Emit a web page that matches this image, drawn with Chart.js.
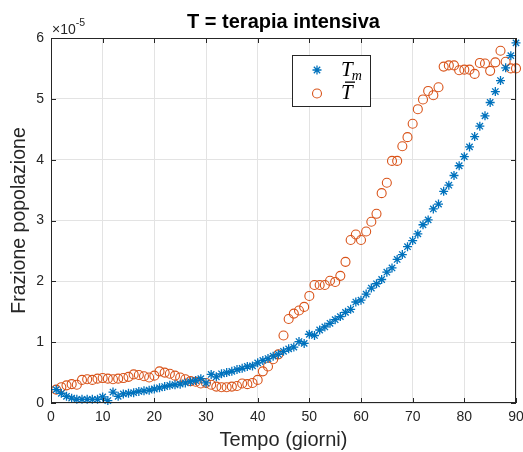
<!DOCTYPE html>
<html>
<head>
<meta charset="utf-8">
<script src="https://cdn.jsdelivr.net/npm/chart.js@4.4.1/dist/chart.umd.min.js"></script>
<style>
  html, body { margin: 0; padding: 0; background: #ffffff; }
  #wrap { width: 523px; height: 452px; }
</style>
</head>
<body>
<div id="wrap"><canvas id="c" width="523" height="452"></canvas></div>
<script>
// Days since start
const days = [
  1, 2, 3, 4, 5, 6, 7, 8, 9, 10,
  11, 12, 13, 14, 15, 16, 17, 18, 19, 20,
  21, 22, 23, 24, 25, 26, 27, 28, 29, 30,
  31, 32, 33, 34, 35, 36, 37, 38, 39, 40,
  41, 42, 43, 44, 45, 46, 47, 48, 49, 50,
  51, 52, 53, 54, 55, 56, 57, 58, 59, 60,
  61, 62, 63, 64, 65, 66, 67, 68, 69, 70,
  71, 72, 73, 74, 75, 76, 77, 78, 79, 80,
  81, 82, 83, 84, 85, 86, 87, 88, 89, 90
];

// T_m (model), fraction of population in units of 1e-5
const tModel = [
  0.22, 0.16, 0.11, 0.08, 0.06, 0.06, 0.06, 0.06, 0.06, 0.10,
  0.04, 0.18, 0.11, 0.15, 0.16, 0.17, 0.19, 0.20, 0.21, 0.23,
  0.25, 0.27, 0.29, 0.30, 0.31, 0.33, 0.35, 0.37, 0.40, 0.33,
  0.47, 0.43, 0.48, 0.50, 0.52, 0.55, 0.57, 0.60, 0.61, 0.66,
  0.70, 0.73, 0.77, 0.80, 0.85, 0.89, 0.92, 1.01, 0.98, 1.13,
  1.11, 1.20, 1.25, 1.31, 1.37, 1.42, 1.49, 1.54, 1.66, 1.69,
  1.79, 1.89, 1.96, 2.03, 2.15, 2.22, 2.36, 2.44, 2.57, 2.67,
  2.78, 2.93, 3.01, 3.19, 3.27, 3.48, 3.58, 3.74, 3.90, 4.05,
  4.21, 4.38, 4.55, 4.72, 4.94, 5.12, 5.30, 5.51, 5.71, 5.92
];

// T-bar (observed), fraction of population in units of 1e-5
const tObserved = [
  0.22, 0.26, 0.29, 0.31, 0.30, 0.38, 0.39, 0.38, 0.40, 0.41,
  0.40, 0.39, 0.40, 0.41, 0.43, 0.47, 0.46, 0.44, 0.42, 0.45,
  0.52, 0.50, 0.48, 0.45, 0.42, 0.39, 0.36, 0.35, 0.32, 0.33,
  0.30, 0.27, 0.26, 0.26, 0.27, 0.28, 0.32, 0.31, 0.33, 0.38,
  0.52, 0.60, 0.72, 0.80, 1.11, 1.38, 1.47, 1.52, 1.58, 1.76,
  1.94, 1.94, 1.94, 2.01, 1.99, 2.09, 2.32, 2.68, 2.77, 2.68,
  2.82, 2.98, 3.11, 3.45, 3.62, 3.98, 3.98, 4.22, 4.37, 4.59,
  4.83, 4.99, 5.13, 5.06, 5.19, 5.53, 5.55, 5.55, 5.47, 5.48,
  5.48, 5.41, 5.59, 5.58, 5.46, 5.60, 5.79, 5.61, 5.50, 5.50
];

const xTicks = [0, 10, 20, 30, 40, 50, 60, 70, 80, 90];
const yTicks = [0, 1, 2, 3, 4, 5, 6];

const BLUE = '#0072BD';
const ORANGE = '#D95319';
const AXIS = '#262626';
const GRID = '#e3e3e3';
const SANS = '"Liberation Sans", Arial, Helvetica, sans-serif';
const SERIF = '"Liberation Serif", "DejaVu Serif", serif';

const toPoints = (ys) => days.map((d, i) => ({ x: d, y: ys[i] }));

// Axes box, inward tick marks, exponent label and the legend
const decorations = {
  id: 'decorations',
  afterDatasetsDraw(chart) {
    const { ctx, chartArea: a, scales: { x, y } } = chart;
    ctx.save();
    ctx.strokeStyle = AXIS;
    ctx.lineWidth = 1;
    ctx.strokeRect(a.left + 0.5, a.top + 0.5, a.right - a.left - 1, a.bottom - a.top - 1);
    const tl = 5;
    ctx.beginPath();
    xTicks.forEach(v => {
      const px = Math.round(x.getPixelForValue(v)) + 0.5;
      ctx.moveTo(px, a.bottom); ctx.lineTo(px, a.bottom - tl);
      ctx.moveTo(px, a.top); ctx.lineTo(px, a.top + tl);
    });
    yTicks.forEach(v => {
      const py = Math.round(y.getPixelForValue(v)) + 0.5;
      ctx.moveTo(a.left, py); ctx.lineTo(a.left + tl, py);
      ctx.moveTo(a.right, py); ctx.lineTo(a.right - tl, py);
    });
    ctx.stroke();

    // exponent of the y axis
    ctx.fillStyle = AXIS;
    ctx.textBaseline = 'alphabetic';
    ctx.textAlign = 'left';
    ctx.font = '14px ' + SANS;
    ctx.fillText('\u00d710', a.left + 1, a.top - 4);
    const w = ctx.measureText('\u00d710').width;
    ctx.font = '10.5px ' + SANS;
    ctx.fillText('-5', a.left + 1 + w, a.top - 12);

    // legend
    const lx = 292, ly = 55, lw = 79, lh = 52;
    ctx.fillStyle = '#ffffff';
    ctx.fillRect(lx, ly, lw, lh);
    ctx.strokeStyle = AXIS;
    ctx.strokeRect(lx + 0.5, ly + 0.5, lw - 1, lh - 1);

    const mx = 317;
    // asterisk marker
    ctx.strokeStyle = BLUE;
    ctx.lineWidth = 1.3;
    ctx.beginPath();
    const r = 4.5, rr = r * Math.SQRT1_2, sy = 70;
    ctx.moveTo(mx - r, sy); ctx.lineTo(mx + r, sy);
    ctx.moveTo(mx, sy - r); ctx.lineTo(mx, sy + r);
    ctx.moveTo(mx - rr, sy - rr); ctx.lineTo(mx + rr, sy + rr);
    ctx.moveTo(mx - rr, sy + rr); ctx.lineTo(mx + rr, sy - rr);
    ctx.stroke();
    // circle marker
    ctx.strokeStyle = ORANGE;
    ctx.lineWidth = 1.1;
    ctx.beginPath();
    ctx.arc(mx, 93.5, 4.5, 0, Math.PI * 2);
    ctx.stroke();

    ctx.fillStyle = '#000000';
    ctx.font = 'italic 21px ' + SERIF;
    ctx.fillText('T', 341, 76);
    const tw = ctx.measureText('T').width;
    ctx.font = 'italic 14px ' + SERIF;
    ctx.fillText('m', 341 + tw - 1, 80);
    ctx.font = 'italic 21px ' + SERIF;
    ctx.fillText('T', 341, 99);
    ctx.fillRect(345, 81.5, 10, 1.3);
    ctx.restore();
  }
};

new Chart(document.getElementById('c'), {
  type: 'scatter',
  data: {
    datasets: [
      {
        label: 'T_m',
        data: toPoints(tModel),
        pointStyle: 'star',
        radius: 4.5,
        borderColor: BLUE,
        backgroundColor: BLUE,
        borderWidth: 1.3,
        clip: false
      },
      {
        label: 'T-bar',
        data: toPoints(tObserved),
        pointStyle: 'circle',
        radius: 4.5,
        borderColor: ORANGE,
        backgroundColor: 'rgba(0,0,0,0)',
        borderWidth: 1.1,
        clip: false
      }
    ]
  },
  options: {
    responsive: false,
    animation: false,
    events: [],
    layout: { padding: { top: 0, right: 7, bottom: 0, left: 0 } },
    plugins: {
      legend: { display: false },
      tooltip: { enabled: false },
      title: {
        display: true,
        text: 'T = terapia intensiva',
        fullSize: false,
        color: '#000000',
        font: { family: SANS, size: 20, weight: 'bold' },
        padding: { top: 10, bottom: 4 }
      }
    },
    scales: {
      x: {
        type: 'linear',
        min: 0,
        max: 90,
        afterFit: (s) => { s.height = 49; s.paddingLeft = 0; s.paddingRight = 0; },
        afterBuildTicks: (s) => { s.ticks = xTicks.map(v => ({ value: v })); },
        grid: { color: GRID, drawTicks: false, lineWidth: 1 },
        border: { display: false },
        ticks: { color: AXIS, font: { family: SANS, size: 14 }, padding: 6, maxRotation: 0 },
        title: {
          display: true,
          text: 'Tempo (giorni)',
          color: AXIS,
          font: { family: SANS, size: 20 },
          padding: { top: 0, bottom: 0 }
        }
      },
      y: {
        type: 'linear',
        min: 0,
        max: 6,
        afterFit: (s) => { s.width = 51; },
        afterBuildTicks: (s) => { s.ticks = yTicks.map(v => ({ value: v })); },
        grid: { color: GRID, drawTicks: false, lineWidth: 1 },
        border: { display: false },
        ticks: { color: AXIS, font: { family: SANS, size: 14 }, padding: 7 },
        title: {
          display: true,
          text: 'Frazione popolazione',
          color: AXIS,
          font: { family: SANS, size: 19.5 },
          padding: { top: 8, bottom: 0 }
        }
      }
    }
  },
  plugins: [decorations]
});
</script>
</body>
</html>
